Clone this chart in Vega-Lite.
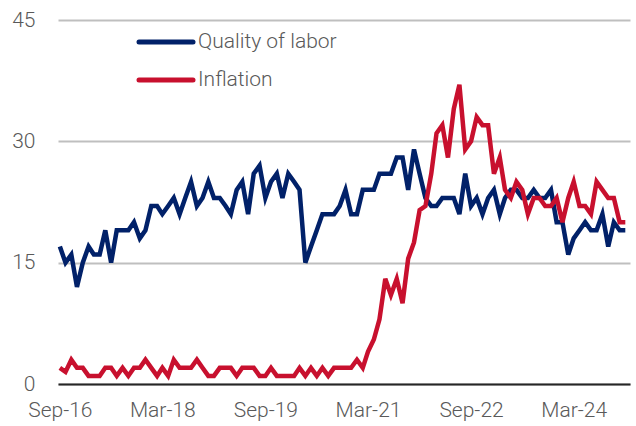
{
  "$schema": "https://vega.github.io/schema/vega-lite/v6.json",
  "width": 572,
  "height": 364,
  "autosize": {"type": "none"},
  "padding": {"left": 58, "top": 20, "right": 6, "bottom": 42},
  "background": "white",
  "config": {"view": {"stroke": null}, "font": "Roboto"},
  "data": {"values": [
    {"date": "2016-09-01", "quality": 17, "inflation": 2},
    {"date": "2016-10-01", "quality": 15, "inflation": 1.5},
    {"date": "2016-11-01", "quality": 16, "inflation": 3},
    {"date": "2016-12-01", "quality": 12, "inflation": 2},
    {"date": "2017-01-01", "quality": 15, "inflation": 2},
    {"date": "2017-02-01", "quality": 17, "inflation": 1},
    {"date": "2017-03-01", "quality": 16, "inflation": 1},
    {"date": "2017-04-01", "quality": 16, "inflation": 1},
    {"date": "2017-05-01", "quality": 19, "inflation": 2},
    {"date": "2017-06-01", "quality": 15, "inflation": 2},
    {"date": "2017-07-01", "quality": 19, "inflation": 1},
    {"date": "2017-08-01", "quality": 19, "inflation": 2},
    {"date": "2017-09-01", "quality": 19, "inflation": 1},
    {"date": "2017-10-01", "quality": 20, "inflation": 2},
    {"date": "2017-11-01", "quality": 18, "inflation": 2},
    {"date": "2017-12-01", "quality": 19, "inflation": 3},
    {"date": "2018-01-01", "quality": 22, "inflation": 2},
    {"date": "2018-02-01", "quality": 22, "inflation": 1},
    {"date": "2018-03-01", "quality": 21, "inflation": 2},
    {"date": "2018-04-01", "quality": 22, "inflation": 1},
    {"date": "2018-05-01", "quality": 23, "inflation": 3},
    {"date": "2018-06-01", "quality": 21, "inflation": 2},
    {"date": "2018-07-01", "quality": 23, "inflation": 2},
    {"date": "2018-08-01", "quality": 25, "inflation": 2},
    {"date": "2018-09-01", "quality": 22, "inflation": 3},
    {"date": "2018-10-01", "quality": 23, "inflation": 2},
    {"date": "2018-11-01", "quality": 25, "inflation": 1},
    {"date": "2018-12-01", "quality": 23, "inflation": 1},
    {"date": "2019-01-01", "quality": 23, "inflation": 2},
    {"date": "2019-02-01", "quality": 22, "inflation": 2},
    {"date": "2019-03-01", "quality": 21, "inflation": 2},
    {"date": "2019-04-01", "quality": 24, "inflation": 1},
    {"date": "2019-05-01", "quality": 25, "inflation": 2},
    {"date": "2019-06-01", "quality": 21, "inflation": 2},
    {"date": "2019-07-01", "quality": 26, "inflation": 2},
    {"date": "2019-08-01", "quality": 27, "inflation": 1},
    {"date": "2019-09-01", "quality": 23, "inflation": 1},
    {"date": "2019-10-01", "quality": 25, "inflation": 2},
    {"date": "2019-11-01", "quality": 26, "inflation": 1},
    {"date": "2019-12-01", "quality": 23, "inflation": 1},
    {"date": "2020-01-01", "quality": 26, "inflation": 1},
    {"date": "2020-02-01", "quality": 25, "inflation": 1},
    {"date": "2020-03-01", "quality": 24, "inflation": 2},
    {"date": "2020-04-01", "quality": 15, "inflation": 1},
    {"date": "2020-05-01", "quality": 17, "inflation": 2},
    {"date": "2020-06-01", "quality": 19, "inflation": 1},
    {"date": "2020-07-01", "quality": 21, "inflation": 2},
    {"date": "2020-08-01", "quality": 21, "inflation": 1},
    {"date": "2020-09-01", "quality": 21, "inflation": 2},
    {"date": "2020-10-01", "quality": 22, "inflation": 2},
    {"date": "2020-11-01", "quality": 24, "inflation": 2},
    {"date": "2020-12-01", "quality": 21, "inflation": 2},
    {"date": "2021-01-01", "quality": 21, "inflation": 3},
    {"date": "2021-02-01", "quality": 24, "inflation": 2},
    {"date": "2021-03-01", "quality": 24, "inflation": 4},
    {"date": "2021-04-01", "quality": 24, "inflation": 5.5},
    {"date": "2021-05-01", "quality": 26, "inflation": 8},
    {"date": "2021-06-01", "quality": 26, "inflation": 13},
    {"date": "2021-07-01", "quality": 26, "inflation": 11},
    {"date": "2021-08-01", "quality": 28, "inflation": 13},
    {"date": "2021-09-01", "quality": 28, "inflation": 10},
    {"date": "2021-10-01", "quality": 24, "inflation": 15.5},
    {"date": "2021-11-01", "quality": 29, "inflation": 17.5},
    {"date": "2021-12-01", "quality": 26, "inflation": 21.5},
    {"date": "2022-01-01", "quality": 23, "inflation": 22},
    {"date": "2022-02-01", "quality": 22, "inflation": 26},
    {"date": "2022-03-01", "quality": 22, "inflation": 31},
    {"date": "2022-04-01", "quality": 23, "inflation": 32},
    {"date": "2022-05-01", "quality": 23, "inflation": 28},
    {"date": "2022-06-01", "quality": 23, "inflation": 34},
    {"date": "2022-07-01", "quality": 21, "inflation": 37},
    {"date": "2022-08-01", "quality": 26, "inflation": 29},
    {"date": "2022-09-01", "quality": 22, "inflation": 30},
    {"date": "2022-10-01", "quality": 23, "inflation": 33},
    {"date": "2022-11-01", "quality": 21, "inflation": 32},
    {"date": "2022-12-01", "quality": 23, "inflation": 32},
    {"date": "2023-01-01", "quality": 24, "inflation": 26},
    {"date": "2023-02-01", "quality": 21, "inflation": 28},
    {"date": "2023-03-01", "quality": 23, "inflation": 24},
    {"date": "2023-04-01", "quality": 24, "inflation": 23},
    {"date": "2023-05-01", "quality": 24, "inflation": 25},
    {"date": "2023-06-01", "quality": 23, "inflation": 24},
    {"date": "2023-07-01", "quality": 23, "inflation": 21},
    {"date": "2023-08-01", "quality": 24, "inflation": 23},
    {"date": "2023-09-01", "quality": 23, "inflation": 23},
    {"date": "2023-10-01", "quality": 23, "inflation": 22},
    {"date": "2023-11-01", "quality": 24, "inflation": 22},
    {"date": "2023-12-01", "quality": 20, "inflation": 23},
    {"date": "2024-01-01", "quality": 20, "inflation": 20},
    {"date": "2024-02-01", "quality": 16, "inflation": 23},
    {"date": "2024-03-01", "quality": 18, "inflation": 25},
    {"date": "2024-04-01", "quality": 19, "inflation": 22},
    {"date": "2024-05-01", "quality": 20, "inflation": 22},
    {"date": "2024-06-01", "quality": 19, "inflation": 21},
    {"date": "2024-07-01", "quality": 19, "inflation": 25},
    {"date": "2024-08-01", "quality": 21, "inflation": 24},
    {"date": "2024-09-01", "quality": 17, "inflation": 23},
    {"date": "2024-10-01", "quality": 20, "inflation": 23},
    {"date": "2024-11-01", "quality": 19, "inflation": 20},
    {"date": "2024-12-01", "quality": 19, "inflation": 20}
  ]},
  "encoding": {
    "x": {
      "field": "date",
      "timeUnit": "utcyearmonth",
      "type": "temporal",
      "title": null,
      "scale": {"domain": [
        {"year": 2016, "month": 8, "date": 22, "utc": true},
        {"year": 2024, "month": 12, "date": 26, "utc": true}
      ]},
      "axis": {
        "values": [
          {"year": 2016, "month": 9, "date": 1, "utc": true},
          {"year": 2018, "month": 3, "date": 1, "utc": true},
          {"year": 2019, "month": 9, "date": 1, "utc": true},
          {"year": 2021, "month": 3, "date": 1, "utc": true},
          {"year": 2022, "month": 9, "date": 1, "utc": true},
          {"year": 2024, "month": 3, "date": 1, "utc": true}
        ],
        "labelExpr": "utcFormat(datum.value, '%b-%y')",
        "grid": false,
        "ticks": false,
        "domain": true,
        "domainColor": "#262626",
        "domainWidth": 2,
        "labelFlush": false,
        "labelOverlap": false,
        "labelFont": "Roboto",
        "labelFontWeight": 300,
        "labelFontSize": 21,
        "labelColor": "#595959",
        "labelPadding": 15
      }
    }
  },
  "layer": [
    {
      "mark": {"type": "line", "strokeWidth": 4.5},
      "encoding": {
        "y": {
          "field": "quality",
          "type": "quantitative",
          "title": null,
          "scale": {"domain": [0, 45]},
          "axis": {
            "values": [0, 15, 30, 45],
            "grid": true,
            "gridColor": "#bfbfbf",
            "gridWidth": 2,
            "domain": false,
            "ticks": false,
            "labelFont": "Roboto",
            "labelFontWeight": 300,
            "labelFontSize": 21,
            "labelColor": "#595959",
            "labelPadding": 23
          }
        },
        "color": {
          "datum": "Quality of labor",
          "scale": {"domain": ["Quality of labor", "Inflation"], "range": ["#012169", "#C8102E"]},
          "legend": {
            "orient": "none",
            "legendX": 92,
            "legendY": 6,
            "title": null,
            "symbolType": "M-2,0H2",
            "symbolSize": 729,
            "symbolStrokeWidth": 5,
            "labelFont": "Roboto",
            "labelFontWeight": 300,
            "labelFontSize": 21,
            "labelColor": "#595959",
            "labelOffset": 16,
            "rowPadding": 12,
            "encode": {"symbols": {"update": {"strokeCap": {"value": "round"}}}}
          }
        }
      }
    },
    {
      "mark": {"type": "line", "strokeWidth": 4.5},
      "encoding": {
        "y": {
          "field": "inflation",
          "type": "quantitative",
          "title": null,
          "scale": {"domain": [0, 45]},
          "axis": {
            "values": [0, 15, 30, 45],
            "grid": true,
            "gridColor": "#bfbfbf",
            "gridWidth": 2,
            "domain": false,
            "ticks": false,
            "labelFont": "Roboto",
            "labelFontWeight": 300,
            "labelFontSize": 21,
            "labelColor": "#595959",
            "labelPadding": 23
          }
        },
        "color": {"datum": "Inflation"}
      }
    }
  ]
}
